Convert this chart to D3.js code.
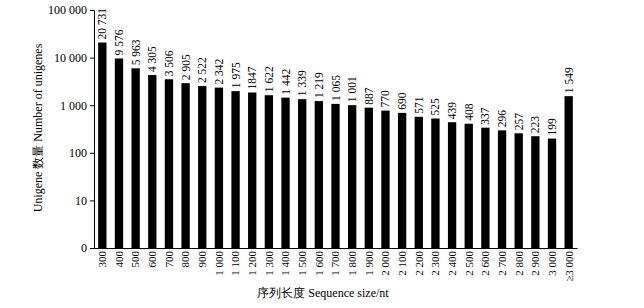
<!DOCTYPE html>
<html><head><meta charset="utf-8">
<script src="https://cdn.jsdelivr.net/npm/d3@7/dist/d3.min.js"></script>
<style>body{margin:0;background:#fff}svg{display:block}</style>
</head><body>
<script>
const categories = ["300","400","500","600","700","800","900","1 000","1 100","1 200","1 300","1 400","1 500","1 600","1 700","1 800","1 900","2 000","2 100","2 200","2 300","2 400","2 500","2 600","2 700","2 800","2 900","3 000","≥3 000"];
const values = [20731,9576,5963,4305,3506,2905,2522,2342,1975,1847,1622,1442,1339,1219,1065,1001,887,770,690,571,525,439,408,337,296,257,223,199,1549];
const valueLabels = ["20 731","9 576","5 963","4 305","3 506","2 905","2 522","2 342","1 975","1847","1 622","1 442","1 339","1 219","1 065","1 001","887","770","690","571","525","439","408","337","296","257","223","199","1 549"];
const yTicks = [1,10,100,1000,10000,100000];
const yTickLabels = ["0","10","100","1 000","10 000","100 000"];
const yTitle = "Unigene 数量 Number of unigenes";
const xTitle = "序列长度 Sequence size/nt";

const W=644,H=308;
const svg=d3.select("body").append("svg").attr("width",W).attr("height",H);
const font="'Liberation Serif','Times New Roman',serif";
const x=d3.scaleBand().domain(categories).range([94,577]).paddingInner(0.5).paddingOuter(0.25);
const y=d3.scaleLog().domain([1,100000]).range([248,10]);

svg.selectAll("rect.bar").data(values).join("rect")
  .attr("x",(d,i)=>x(categories[i])).attr("width",x.bandwidth())
  .attr("y",d=>y(d)).attr("height",d=>248-y(d)).attr("fill","#000");

svg.selectAll("text.val").data(values).join("text")
  .attr("transform",(d,i)=>`translate(${x(categories[i])+x.bandwidth()/2+4},${y(d)-3}) rotate(-90)`)
  .attr("font-family",font).attr("font-size",11.5).attr("fill","#000")
  .text((d,i)=>valueLabels[i]);

const yAxis=d3.axisLeft(y).tickValues(yTicks).tickFormat((d,i)=>yTickLabels[i]).tickSizeOuter(0).tickSize(4).tickPadding(3);
const gy=svg.append("g").attr("transform","translate(94,0)").call(yAxis);
gy.selectAll("text").attr("font-family",font).attr("font-size",12).attr("fill","#000");
gy.select(".domain").attr("stroke","#000");

const xAxis=d3.axisBottom(x).tickSize(0).tickSizeOuter(0).tickPadding(0);
const gx=svg.append("g").attr("transform","translate(0,248)").call(xAxis);
gx.select(".domain").attr("stroke","#000");
gx.selectAll("text").attr("font-family",font).attr("font-size",11).attr("fill","#000")
  .attr("transform","rotate(-90)").attr("text-anchor","end").attr("dy","0.35em").attr("x",-3).attr("y",0);

svg.append("text").attr("transform","translate(42,128) rotate(-90)").attr("text-anchor","middle")
  .attr("font-family",font).attr("font-size",12).attr("fill","#000").text(yTitle);
svg.append("text").attr("x",323).attr("y",297).attr("text-anchor","middle")
  .attr("font-family",font).attr("font-size",12).attr("fill","#000").text(xTitle);
</script>
</body></html>
